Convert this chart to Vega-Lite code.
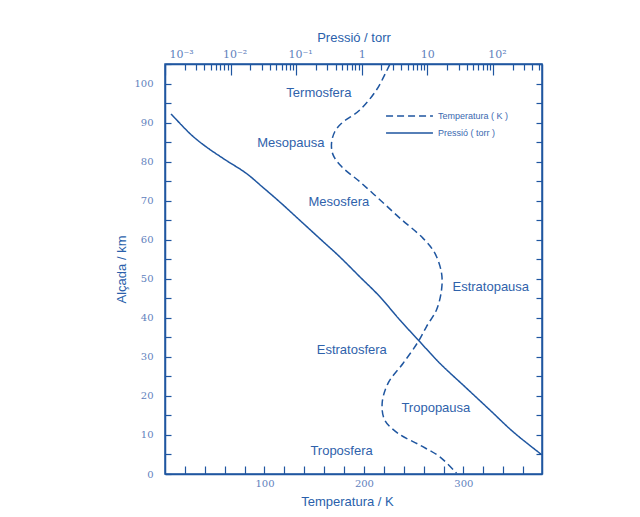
{
  "$schema": "https://vega.github.io/schema/vega-lite/v6.json",
  "width": 377,
  "height": 410,
  "autosize": {"type": "none"},
  "padding": {"left": 165, "top": 64, "right": 98, "bottom": 43},
  "background": "white",
  "config": {
    "view": {"stroke": "#1f56a0", "strokeWidth": 1.5},
    "axis": {
      "domainColor": "#1f56a0",
      "domainWidth": 1.5,
      "tickColor": "#1f56a0",
      "tickWidth": 1.2,
      "labelColor": "#5f82bd",
      "titleColor": "#2a5fab",
      "labelFont": "DejaVu Serif",
      "labelFontSize": 10,
      "titleFont": "Liberation Sans",
      "titleFontSize": 13,
      "titleFontWeight": "normal",
      "grid": false
    }
  },
  "datasets": {
    "temp": [
      {"T": 226, "h": 105},
      {"T": 222, "h": 102.9},
      {"T": 212.7, "h": 98.5},
      {"T": 195.9, "h": 93.3},
      {"T": 177.5, "h": 89.9},
      {"T": 170.8, "h": 87.8},
      {"T": 167.4, "h": 84.8},
      {"T": 169.0, "h": 81.8},
      {"T": 177.5, "h": 78.8},
      {"T": 195.9, "h": 74.9},
      {"T": 216.0, "h": 70.3},
      {"T": 236.1, "h": 65.6},
      {"T": 259.5, "h": 60.4},
      {"T": 271.3, "h": 56.6},
      {"T": 278.0, "h": 51.5},
      {"T": 278.0, "h": 47.2},
      {"T": 273.0, "h": 42.1},
      {"T": 262.9, "h": 37.8},
      {"T": 254.5, "h": 33.9},
      {"T": 239.4, "h": 28.4},
      {"T": 224.3, "h": 23.3},
      {"T": 218.3, "h": 18.1},
      {"T": 221.0, "h": 13.8},
      {"T": 234.4, "h": 10.4},
      {"T": 256.2, "h": 7.4},
      {"T": 276.3, "h": 4.4},
      {"T": 293.1, "h": 0.2}
    ],
    "press": [
      {"P": 0.001235, "h": 92.3},
      {"P": 0.00175, "h": 89.6},
      {"P": 0.00265, "h": 86.6},
      {"P": 0.0043, "h": 83.8},
      {"P": 0.0082, "h": 80.6},
      {"P": 0.01726, "h": 77.1},
      {"P": 0.03097, "h": 73.5},
      {"P": 0.0557, "h": 69.8},
      {"P": 0.1127, "h": 65.1},
      {"P": 0.2276, "h": 60.4},
      {"P": 0.4603, "h": 55.7},
      {"P": 0.929, "h": 50.6},
      {"P": 1.879, "h": 45.5},
      {"P": 3.80, "h": 39.5},
      {"P": 7.23, "h": 34.4},
      {"P": 15.5, "h": 28.4},
      {"P": 37.3, "h": 22.4},
      {"P": 90.0, "h": 16.4},
      {"P": 204, "h": 10.8},
      {"P": 540, "h": 5.1}
    ],
    "labels": [
      {"T": 154.7, "h": 97.7, "text": "Termosfera"},
      {"T": 126.5, "h": 84.9, "text": "Mesopausa"},
      {"T": 174.8, "h": 69.7, "text": "Mesosfera"},
      {"T": 327.5, "h": 48.0, "text": "Estratopausa"},
      {"T": 187.8, "h": 31.8, "text": "Estratosfera"},
      {"T": 272.3, "h": 16.9, "text": "Tropopausa"},
      {"T": 177.5, "h": 5.9, "text": "Troposfera"}
    ]
  },
  "layer": [
    {
      "encoding": {
        "x": {
          "field": "T", "type": "quantitative",
          "scale": {"domain": [0, 379], "nice": false, "zero": false},
          "axis": {
            "orient": "bottom",
            "title": "Temperatura / K",
            "values": [20, 40, 60, 80, 100, 120, 140, 160, 180, 200, 220, 240, 260, 280, 300, 320, 340, 360],
            "labelExpr": "datum.value % 100 == 0 ? datum.label : ''",
            "tickSize": -8,
            "labelPadding": 12,
            "titlePadding": 7,
            "titleX": 182
          }
        },
        "y": {
          "field": "h", "type": "quantitative",
          "scale": {"domain": [0, 105.1], "nice": false},
          "axis": {
            "orient": "left",
            "title": "Alçada / km",
            "values": [0, 5, 10, 15, 20, 25, 30, 35, 40, 45, 50, 55, 60, 65, 70, 75, 80, 85, 90, 95, 100, 105],
            "labelExpr": "datum.value % 10 == 0 ? datum.label : ''",
            "tickSize": -6,
            "labelPadding": 18,
            "titlePadding": 5
          }
        }
      },
      "layer": [
        {
          "data": {"name": "temp"},
          "mark": {"type": "line", "color": "#1f56a0", "strokeWidth": 1.5, "interpolate": "catmull-rom"},
          "encoding": {
            "order": {"field": "h", "type": "quantitative", "sort": "descending"},
            "strokeDash": {
              "datum": "Temperatura ( K )", "type": "nominal",
              "scale": {"domain": ["Temperatura ( K )", "Pressió ( torr )"], "range": [[7, 4], [1, 0]]},
              "legend": {
                "title": null,
                "orient": "none",
                "legendX": 220,
                "legendY": 46,
                "padding": 0,
                "symbolType": "stroke",
                "symbolSize": 2200,
                "symbolStrokeWidth": 1.4,
                "symbolStrokeColor": "#1f56a0",
                "clipHeight": 12,
                "rowPadding": 5,
                "labelOffset": 4,
                "labelFont": "Liberation Sans",
                "labelFontSize": 9,
                "labelColor": "#3a68b0"
              }
            }
          }
        },
        {
          "data": {"name": "labels"},
          "mark": {"type": "text", "font": "Liberation Sans", "fontSize": 13, "color": "#2f62ab"},
          "encoding": {
            "text": {"field": "text"}
          }
        }
      ]
    },
    {
      "data": {"name": "press"},
      "mark": {"type": "line", "color": "#1f56a0", "strokeWidth": 1.5, "interpolate": "catmull-rom"},
      "encoding": {
        "x": {
          "field": "P", "type": "quantitative",
          "scale": {"type": "log", "domain": [0.001, 561], "nice": false},
          "axis": {
            "orient": "top",
            "title": "Pressió / torr",
            "values": [0.001, 0.002, 0.003, 0.004, 0.005, 0.006, 0.007, 0.008, 0.009, 0.01, 0.02, 0.03, 0.04, 0.05, 0.06, 0.07, 0.08, 0.09, 0.1, 0.2, 0.3, 0.4, 0.5, 0.6, 0.7, 0.8, 0.9, 1, 2, 3, 4, 5, 6, 7, 8, 9, 10, 20, 30, 40, 50, 60, 70, 80, 90, 100, 200, 300, 400, 500],
            "labelExpr": "datum.value == 0.001 ? '10⁻³' : datum.value == 0.01 ? '10⁻²' : datum.value == 0.1 ? '10⁻¹' : datum.value == 1 ? '1' : datum.value == 10 ? '10' : datum.value == 100 ? '10²' : ''",
            "tickSize": {"condition": {"test": "abs(log(datum.value)/LN10 - round(log(datum.value)/LN10)) < 0.001", "value": -11}, "value": -6},
            "labelPadding": 16,
            "labelFontSize": 11,
            "labelOffset": {"condition": {"test": "datum.value < 0.5 || datum.value > 50", "value": 4}, "value": 0},
            "titlePadding": 4
          }
        },
        "y": {
          "field": "h", "type": "quantitative",
          "axis": {
            "orient": "right",
            "title": null,
            "labels": false,
            "values": [5, 10, 15, 20, 25, 30, 35, 40, 45, 50, 55, 60, 65, 70, 75, 80, 85, 90, 95, 100, 105],
            "tickSize": -6
          }
        },
        "order": {"field": "h", "type": "quantitative", "sort": "descending"},
        "strokeDash": {"datum": "Pressió ( torr )", "type": "nominal"}
      }
    }
  ],
  "resolve": {"scale": {"x": "independent"}, "axis": {"y": "independent"}}
}
